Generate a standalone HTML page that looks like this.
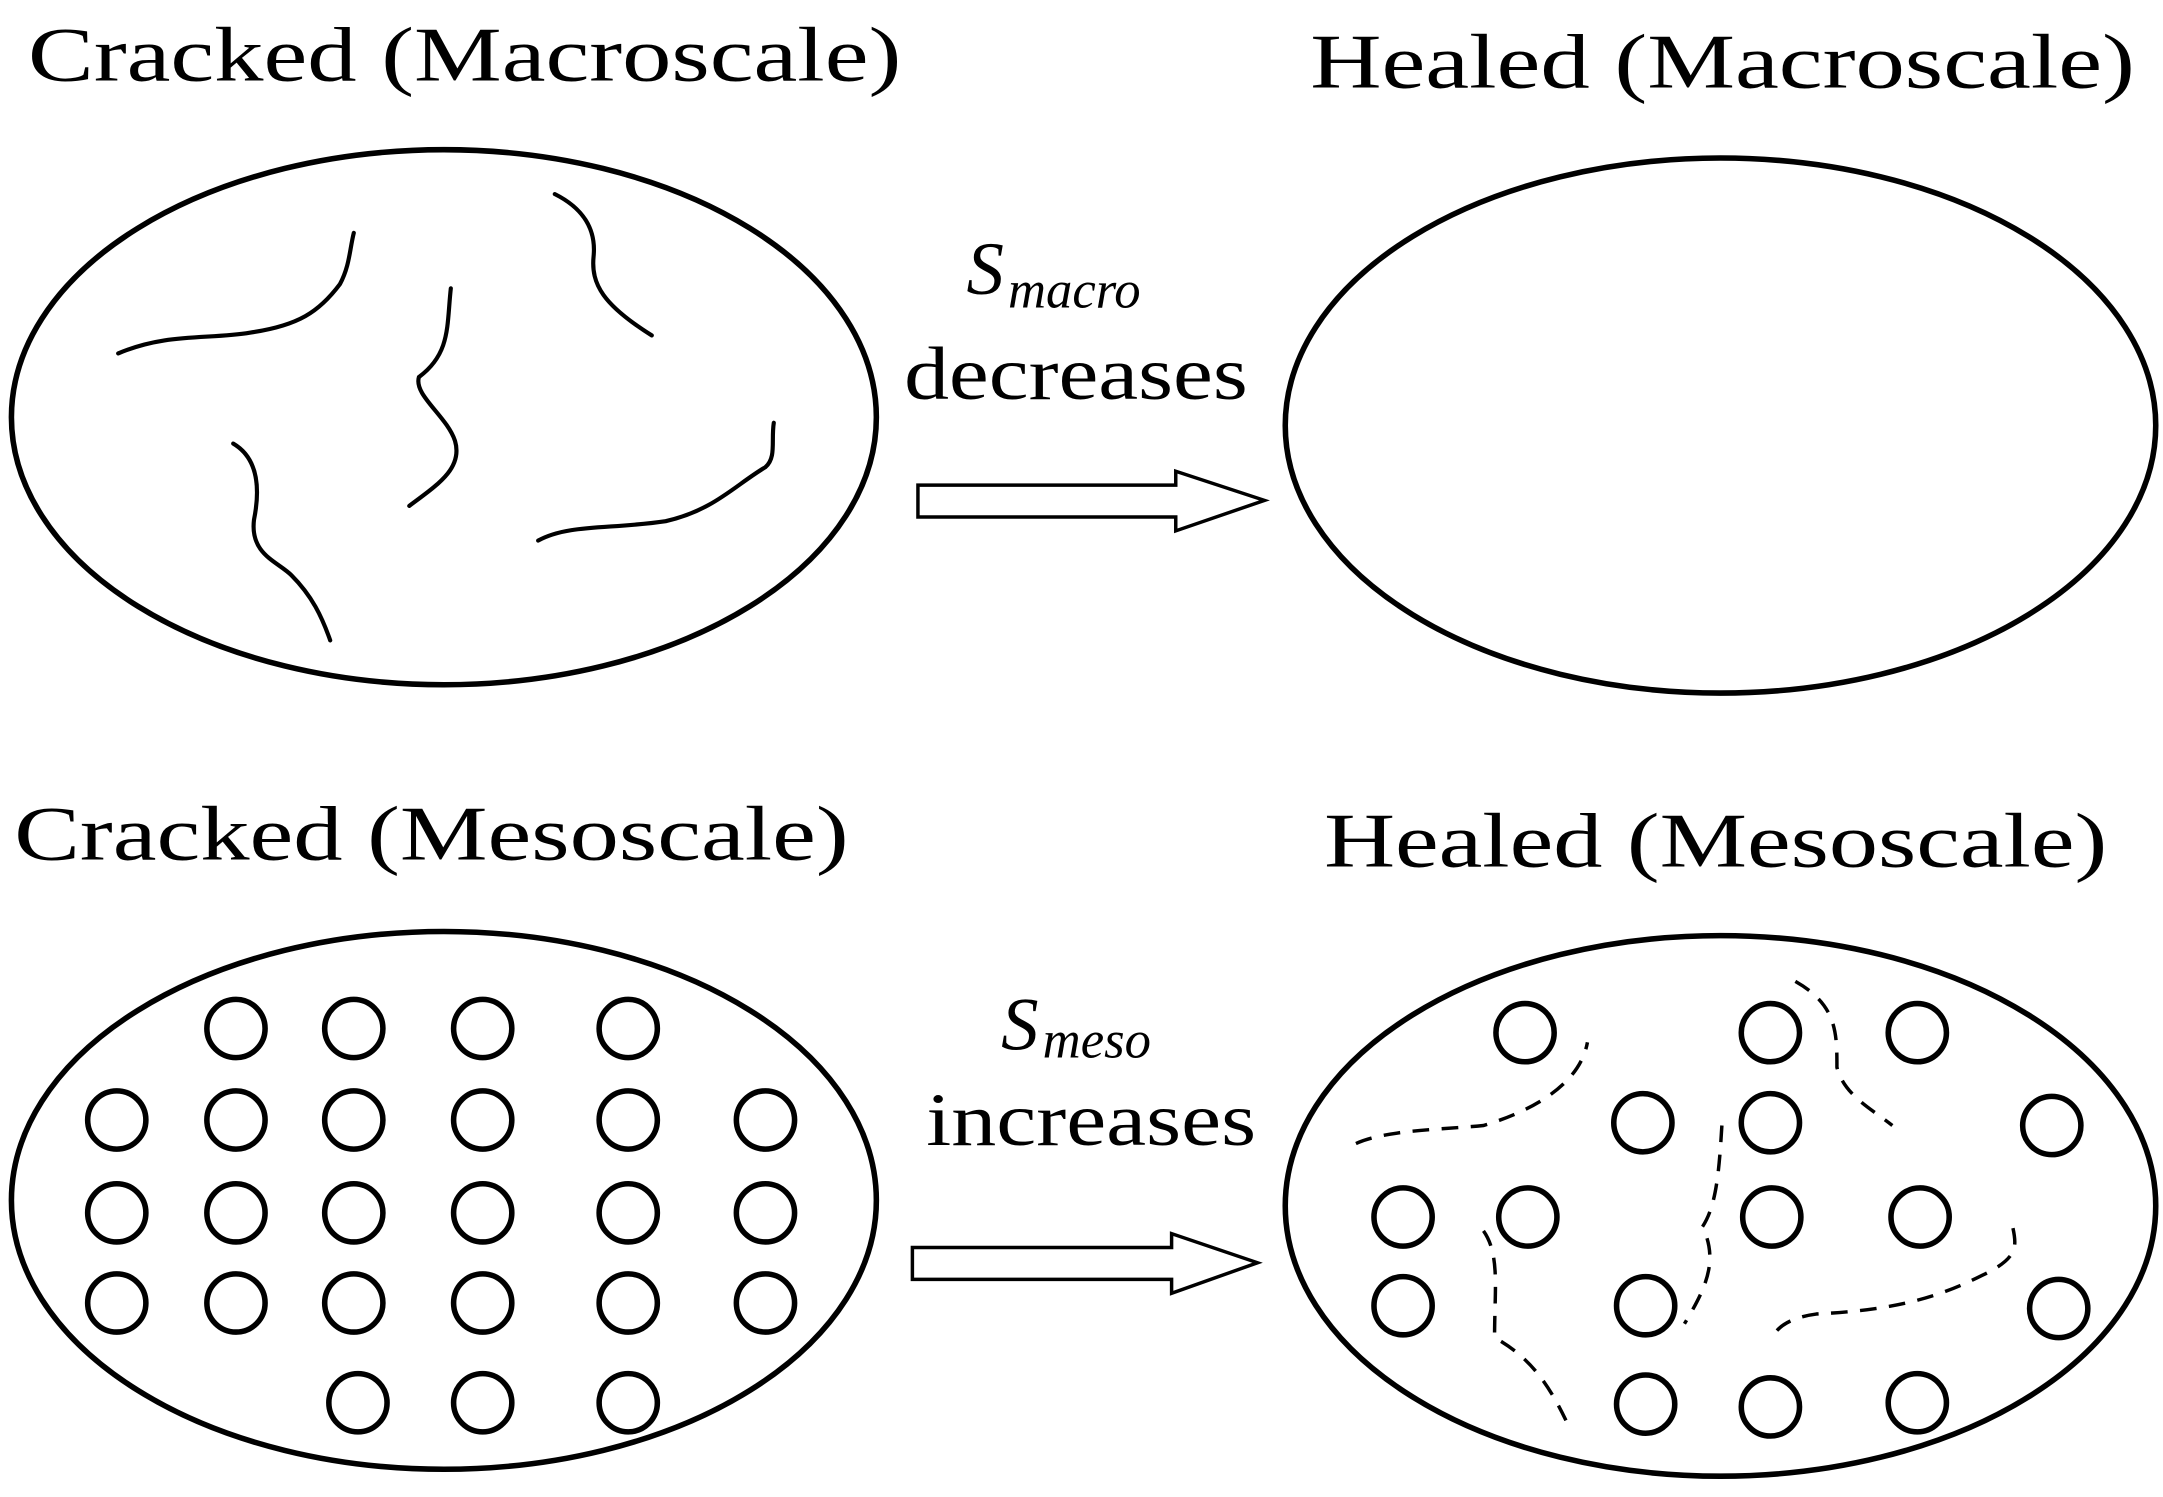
<!DOCTYPE html>
<html><head><meta charset="utf-8"><style>
html,body{margin:0;padding:0;background:#fff;width:2163px;height:1497px;overflow:hidden}
svg{display:block}
text{font-family:"Liberation Serif",serif;fill:#000}
</style></head><body>
<svg width="2163" height="1497" viewBox="0 0 1560 1080" xmlns="http://www.w3.org/2000/svg">
<g fill="none" stroke="#000" stroke-width="4">
<ellipse cx="320" cy="301" rx="312" ry="193"/>
<ellipse cx="1241" cy="307" rx="314" ry="193"/>
<ellipse cx="320" cy="866" rx="312" ry="194"/>
<ellipse cx="1241" cy="870" rx="314" ry="195"/>
</g>
<g fill="none" stroke="#000" stroke-width="3" stroke-linecap="round">
<path d="M85,255 C120,240 150,245 180,240 C215,235 230,225 245,205 C252,192 252,180 255,168"/>
<path d="M325,208 C322,235 325,255 302,272 C298,285 322,300 328,318 C334,338 315,350 295,365"/>
<path d="M400,140 C420,150 430,165 428,185 C426,205 435,220 470,242"/>
<path d="M168,320 C185,330 188,350 183,375 C180,400 200,405 210,415 C225,430 232,445 238,462"/>
<path d="M388,390 C410,378 440,382 480,376 C515,368 530,350 552,337 C560,330 556,318 558,305"/>
</g>
<g fill="none" stroke="#000" stroke-width="2.5" stroke-dasharray="12,9">
<path d="M978,825 C1000,815 1040,815 1070,812 C1110,800 1140,780 1145,752"/>
<path d="M1295,708 C1325,725 1325,745 1325,770 C1330,790 1350,800 1365,812"/>
<path d="M1242,812 C1240,845 1238,870 1228,885 C1240,910 1230,930 1215,955"/>
<path d="M1070,888 C1082,905 1078,930 1078,965 C1105,980 1118,1000 1132,1030"/>
<path d="M1452,886 C1455,900 1455,908 1430,920 C1400,935 1370,945 1310,948 C1295,950 1285,955 1280,962"/>
</g>
<g fill="#fff" stroke="#000" stroke-width="4">
<circle cx="170" cy="742" r="21"/><circle cx="255" cy="742" r="21"/><circle cx="348" cy="742" r="21"/><circle cx="453" cy="742" r="21"/>
<circle cx="84" cy="808" r="21"/><circle cx="170" cy="808" r="21"/><circle cx="255" cy="808" r="21"/><circle cx="348" cy="808" r="21"/><circle cx="453" cy="808" r="21"/><circle cx="552" cy="808" r="21"/>
<circle cx="84" cy="875" r="21"/><circle cx="170" cy="875" r="21"/><circle cx="255" cy="875" r="21"/><circle cx="348" cy="875" r="21"/><circle cx="453" cy="875" r="21"/><circle cx="552" cy="875" r="21"/>
<circle cx="84" cy="940" r="21"/><circle cx="170" cy="940" r="21"/><circle cx="255" cy="940" r="21"/><circle cx="348" cy="940" r="21"/><circle cx="453" cy="940" r="21"/><circle cx="552" cy="940" r="21"/>
<circle cx="258" cy="1012" r="21"/><circle cx="348" cy="1012" r="21"/><circle cx="453" cy="1012" r="21"/>
<circle cx="1100" cy="745" r="21"/><circle cx="1277" cy="745" r="21"/><circle cx="1383" cy="745" r="21"/>
<circle cx="1185" cy="810" r="21"/><circle cx="1277" cy="810" r="21"/><circle cx="1480" cy="812" r="21"/>
<circle cx="1012" cy="878" r="21"/><circle cx="1102" cy="878" r="21"/><circle cx="1278" cy="878" r="21"/><circle cx="1385" cy="878" r="21"/>
<circle cx="1012" cy="942" r="21"/><circle cx="1187" cy="942" r="21"/><circle cx="1485" cy="944" r="21"/>
<circle cx="1187" cy="1013" r="21"/><circle cx="1277" cy="1015" r="21"/><circle cx="1383" cy="1012" r="21"/>
</g>
<g fill="#fff" stroke="#000" stroke-width="2.5">
<path d="M662,350 L848,350 L848,340 L912,361 L848,383 L848,373 L662,373 Z"/>
<path d="M658,900 L845,900 L845,890 L907,911 L845,933 L845,923 L658,923 Z"/>
</g>
<text x="20" y="58" font-size="56" textLength="630" lengthAdjust="spacingAndGlyphs">Cracked (Macroscale)</text>
<text x="945" y="63" font-size="56" textLength="595" lengthAdjust="spacingAndGlyphs">Healed (Macroscale)</text>
<text x="10" y="620" font-size="56" textLength="602" lengthAdjust="spacingAndGlyphs">Cracked (Mesoscale)</text>
<text x="955" y="625" font-size="56" textLength="565" lengthAdjust="spacingAndGlyphs">Healed (Mesoscale)</text>
<text x="697" y="212" font-size="54" font-style="italic">S</text>
<text x="727" y="222" font-size="38" font-style="italic">macro</text>
<text x="652" y="288" font-size="54" textLength="248" lengthAdjust="spacingAndGlyphs">decreases</text>
<text x="722" y="757" font-size="54" font-style="italic">S</text>
<text x="752" y="763" font-size="38" font-style="italic">meso</text>
<text x="668" y="826" font-size="54" textLength="238" lengthAdjust="spacingAndGlyphs">increases</text>
</svg>
</body></html>
